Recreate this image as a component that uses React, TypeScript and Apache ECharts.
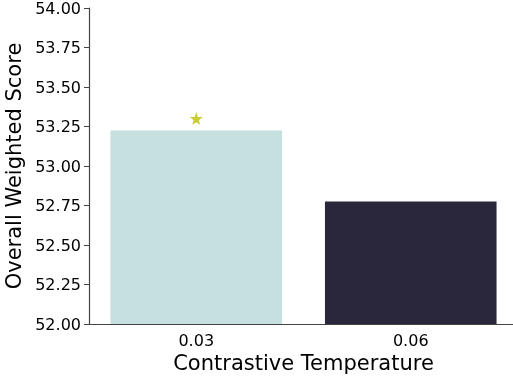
import React, { useEffect, useRef } from "react";
import * as echarts from "echarts";

const categories = ["0.03", "0.06"];
const scores = [53.224, 52.776];
const barColors = ["#c6dfdf", "#2a263c"];
const bestMarker = [["0.03", 53.3]];
const yTicksMin = 52.0;
const yTicksMax = 54.0;
const yTickStep = 0.25;

const STAR =
  "path://M0,-10 L2.35,-3.24 L9.51,-3.09 L3.8,1.24 L5.88,8.09 L0,4 L-5.88,8.09 L-3.8,1.24 L-9.51,-3.09 L-2.35,-3.24 Z";

export default function App() {
  const ref = useRef<HTMLDivElement>(null);
  useEffect(() => {
    if (!ref.current) return;
    const chart = echarts.init(ref.current, undefined, { renderer: "svg" });
    const font = "DejaVu Sans";
    chart.setOption({
      animation: false,
      grid: { left: 89, right: -5, top: 8, bottom: 56, outerBoundsMode: "none", containLabel: false },
      xAxis: {
        type: "category",
        data: categories,
        name: "Contrastive Temperature",
        nameLocation: "middle",
        nameGap: 28,
        nameTextStyle: { fontFamily: font, fontSize: 21, color: "#000" },
        axisLine: { lineStyle: { color: "#444", width: 1.2 } },
        axisTick: { show: false },
        axisLabel: { fontFamily: font, fontSize: 16, color: "#000", margin: 8 },
      },
      yAxis: {
        type: "value",
        min: yTicksMin,
        max: yTicksMax,
        interval: yTickStep,
        name: "Overall Weighted Score",
        nameLocation: "middle",
        nameGap: 60,
        nameTextStyle: { fontFamily: font, fontSize: 21, color: "#000" },
        axisLine: { show: true, lineStyle: { color: "#444", width: 1.2 } },
        axisTick: { show: true, length: 5, lineStyle: { color: "#444" } },
        splitLine: { show: false },
        axisLabel: {
          fontFamily: font,
          fontSize: 16,
          color: "#000",
          margin: 8,
          formatter: (v: number) => v.toFixed(2),
        },
      },
      series: [
        {
          type: "bar",
          barWidth: "80%",
          data: scores.map((v, i) => ({ value: v, itemStyle: { color: barColors[i] } })),
        },
        {
          type: "scatter",
          symbol: STAR,
          symbolSize: 13,
          itemStyle: { color: "#bfbf00" },
          data: bestMarker,
          z: 5,
        },
      ],
    });
    return () => chart.dispose();
  }, []);
  return (
    <div
      ref={ref}
      style={{ position: "fixed", left: 0, top: 0, width: 513, height: 380 }}
    />
  );
}
